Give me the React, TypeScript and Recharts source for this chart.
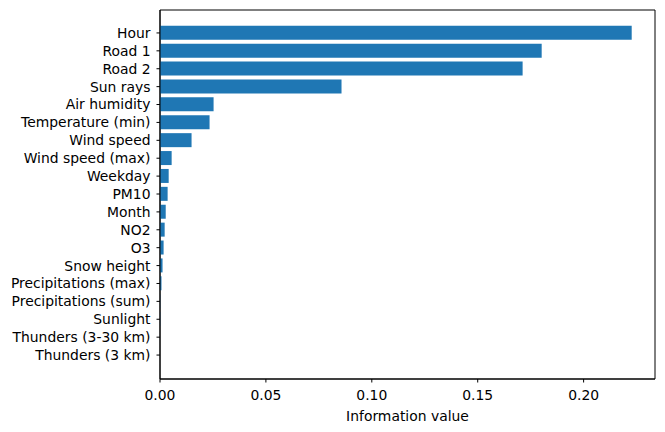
import React from 'react';
import { BarChart, Bar, XAxis, YAxis, CartesianGrid } from 'recharts';

// feature names, top to bottom
const features = [
  'Hour',
  'Road 1',
  'Road 2',
  'Sun rays',
  'Air humidity',
  'Temperature (min)',
  'Wind speed',
  'Wind speed (max)',
  'Weekday',
  'PM10',
  'Month',
  'NO2',
  'O3',
  'Snow height',
  'Precipitations (max)',
  'Precipitations (sum)',
  'Sunlight',
  'Thunders (3-30 km)',
  'Thunders (3 km)',
];

// information value per feature
const infoValues = [
  0.2227, 0.1802, 0.1712, 0.0857, 0.0253, 0.0234, 0.0149, 0.0055, 0.0041,
  0.0036, 0.0027, 0.0022, 0.0017, 0.0012, 0.0007, 0.0001, 0.0001, 0, 0,
];

const xTicks = [0, 0.05, 0.1, 0.15, 0.2];
const xMax = 0.2337;

const BAR_COLOR = '#1f77b4';
const FONT = '"DejaVu Sans", sans-serif';

const data = features.map((name, i) => ({ name, value: infoValues[i] }));

const tickStyle = { fill: '#000', fontSize: 13.9, fontFamily: FONT };

// frame around the plot area (matplotlib spines)
const frameRows = ({ offset }: any) => [offset.top, offset.top + offset.height];
const frameCols = ({ offset }: any) => [offset.left, offset.left + offset.width];

export default function App() {
  return (
    <div style={{ position: 'absolute', left: 0, top: 0, background: '#fff' }}>
      <BarChart
        width={665}
        height={432}
        data={data}
        layout="vertical"
        margin={{ top: 10, right: 10, bottom: 8, left: 0 }}
        barCategoryGap="10%"
      >
        <CartesianGrid
          stroke="#000"
          strokeWidth={1}
          horizontalCoordinatesGenerator={frameRows}
          verticalCoordinatesGenerator={frameCols}
        />
        <XAxis
          type="number"
          domain={[0, xMax]}
          ticks={xTicks}
          allowDataOverflow
          tickFormatter={(v: number) => v.toFixed(2)}
          tick={tickStyle}
          tickSize={3.5}
          tickMargin={8}
          axisLine={{ stroke: '#000', strokeWidth: 1 }}
          tickLine={{ stroke: '#000', strokeWidth: 1 }}
          height={45}
          label={{
            value: 'Information value',
            position: 'insideBottom',
            offset: 3,
            fill: '#000',
            fontSize: 13.9,
            fontFamily: FONT,
          }}
        />
        <YAxis
          type="category"
          dataKey="name"
          width={160}
          interval={0}
          padding={{ top: 14, bottom: 15 }}
          tick={tickStyle}
          tickSize={3.5}
          tickMargin={6}
          axisLine={{ stroke: '#000', strokeWidth: 1 }}
          tickLine={{ stroke: '#000', strokeWidth: 1 }}
        />
        <Bar dataKey="value" fill={BAR_COLOR} isAnimationActive={false} />
      </BarChart>
    </div>
  );
}
